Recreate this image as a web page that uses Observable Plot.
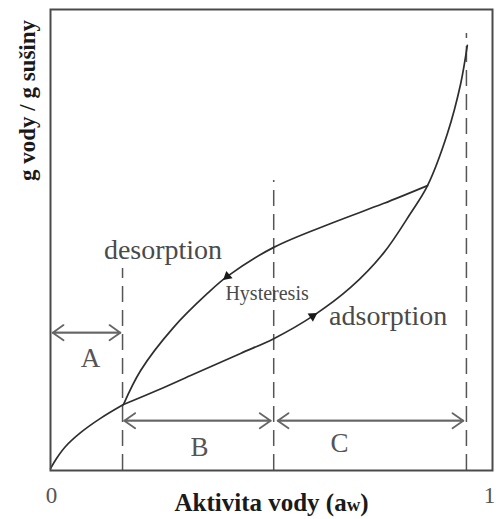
<!DOCTYPE html>
<html><head><meta charset="utf-8">
<script src="https://cdn.jsdelivr.net/npm/d3@7"></script>
<script src="https://cdn.jsdelivr.net/npm/@observablehq/plot@0.6"></script>
<style>body{margin:0;background:#fff}</style>
</head><body><div id="chart"></div>
<script>
// Shared lower branch (origin to split point)
const lowX = [0, 0.0136, 0.034, 0.068, 0.113, 0.165];
const lowY = [0.004, 0.026, 0.052, 0.082, 0.113, 0.143];
// Desorption branch (upper)
const desX = [0.165, 0.204, 0.278, 0.355, 0.400, 0.505, 0.640, 0.753, 0.853];
const desY = [0.143, 0.217, 0.310, 0.384, 0.421, 0.484, 0.538, 0.579, 0.618];
// Adsorption branch (lower, continuing to the top)
const adsX = [0.165, 0.242, 0.317, 0.430, 0.505, 0.595, 0.679, 0.753, 0.814, 0.853, 0.898, 0.928, 0.943];
const adsY = [0.143, 0.174, 0.206, 0.254, 0.286, 0.336, 0.397, 0.471, 0.557, 0.618, 0.731, 0.839, 0.922];
// Direction markers on the curves
const markX = [0.400, 0.593];
const markY = [0.421, 0.335];
const markAngle = [-130, 57];
// Dashed zone boundaries
const dashX = [0.163, 0.505, 0.941];
const dashTop = [0.438, 0.629, 0.948];
// Zone spans (double arrows)
const spanX1 = [0.005, 0.167, 0.514];
const spanX2 = [0.158, 0.498, 0.934];
const spanY = [0.299, 0.108, 0.108];
// Zone labels
const zoneLabels = ["A", "B", "C"];
const zoneX = [0.0905, 0.337, 0.654];
const zoneY = [0.243, 0.050, 0.059];
// Curve labels
const curveLabels = ["desorption", "Hysteresis", "adsorption"];
const curveLabelX = [0.2545, 0.490, 0.764];
const curveLabelY = [0.479, 0.383, 0.334];
// Axis texts
const xTicks = [0, 1];
const xTickLabels = ["0", "1"];
const xTitle = "Aktivita vody (aw)";
const yTitle = "g vody / g sušiny";

const toPts = (xs, ys) => xs.map((x, i) => ({x, y: ys[i]}));
const low = toPts(lowX, lowY);
const des = toPts(desX, desY);
const ads = toPts(adsX, adsY);
const marks = markX.map((x, i) => ({x, y: markY[i], a: markAngle[i]}));
const dashes = dashX.map((x, i) => ({x, top: dashTop[i]}));
const spans = spanX1.map((x1, i) => ({x1, x2: spanX2[i], y: spanY[i]}));
const zones = zoneLabels.map((t, i) => ({t, x: zoneX[i], y: zoneY[i]}));
const clabels = curveLabels.map((t, i) => ({t, x: curveLabelX[i], y: curveLabelY[i], size: i === 1 ? 20 : 28}));
const ticks = xTicks.map((x, i) => ({x, t: xTickLabels[i]}));

const font = "Liberation Serif, Times New Roman, serif";
const lineStyle = {x: "x", y: "y", curve: "catmull-rom", stroke: "#2e2e2e", strokeWidth: 1.7};

const chart = Plot.plot({
  width: 496,
  height: 519,
  marginLeft: 50,
  marginRight: 4,
  marginTop: 9,
  marginBottom: 49,
  style: {fontFamily: font, background: "#fff"},
  x: {domain: [0, 1], axis: null},
  y: {domain: [0, 1], axis: null},
  marks: [
    Plot.ruleX(dashes, {x: "x", y1: 0, y2: "top", stroke: "#555", strokeWidth: 1.5, strokeDasharray: "16,8"}),
    Plot.arrow(spans, {x1: "x1", x2: "x2", y1: "y", y2: "y", stroke: "#666", strokeWidth: 1.8, headLength: 11, headAngle: 70}),
    Plot.arrow(spans, {x1: "x2", x2: "x1", y1: "y", y2: "y", stroke: "#666", strokeWidth: 1.8, headLength: 11, headAngle: 70}),
    Plot.line(low, lineStyle),
    Plot.line(des, lineStyle),
    Plot.line(ads, lineStyle),
    Plot.dot(marks, {x: "x", y: "y", rotate: "a", symbol: "triangle", r: 3.6, fill: "#1a1a1a", stroke: "none"}),
    Plot.text(zones, {x: "x", y: "y", text: "t", fontSize: 27, fill: "#555"}),
    Plot.text(clabels, {x: "x", y: "y", text: "t", fontSize: "size", fill: "#4a4a4a"}),
    Plot.text(ticks.slice(0, 1), {x: "x", text: "t", frameAnchor: "bottom", lineAnchor: "middle", dy: 25, dx: 1, fontSize: 23, fill: "#555"}),
    Plot.text(ticks.slice(1), {x: "x", text: "t", frameAnchor: "bottom", lineAnchor: "middle", dy: 25, dx: -3, fontSize: 23, fill: "#555"}),
    Plot.text([xTitle], {frameAnchor: "bottom", lineAnchor: "middle", dy: 32, fontSize: 25, fontWeight: "bold", fill: "#1a1a1a"}),
    Plot.text([yTitle], {frameAnchor: "top-left", dx: -32, dy: 91, rotate: -90, textAnchor: "middle", fontSize: 23, fontWeight: "bold", fill: "#1a1a1a"}),
    Plot.frame({stroke: "#4a4a4a", strokeWidth: 2})
  ]
});

// subscript-style small "w" in the x title
d3.select(chart).selectAll("text").filter(function() { return this.textContent === xTitle; }).each(function() {
  const t = d3.select(this);
  t.text(null);
  t.append("tspan").text("Aktivita vody (a");
  t.append("tspan").attr("font-size", "0.75em").text("w");
  t.append("tspan").text(")");
});

document.getElementById("chart").appendChild(chart);
</script>
</body></html>
